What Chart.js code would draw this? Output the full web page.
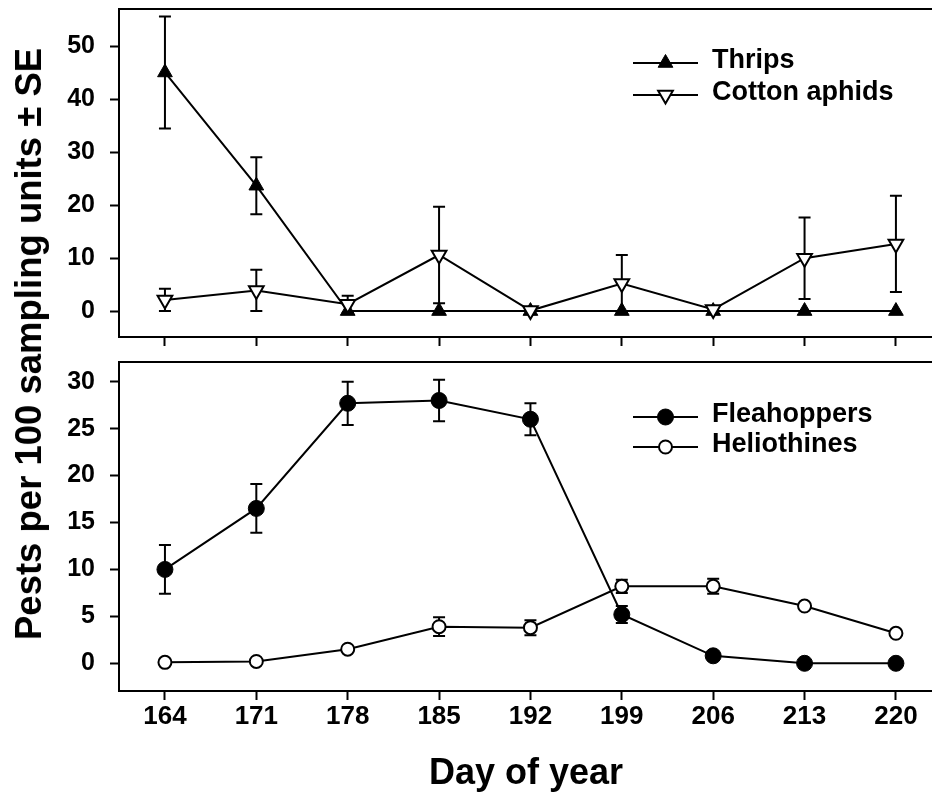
<!DOCTYPE html>
<html>
<head>
<meta charset="utf-8">
<title>Pest densities by day of year</title>
<script src="https://cdn.jsdelivr.net/npm/chart.js@4.4.1/dist/chart.umd.min.js"></script>
<style>
  html, body { margin: 0; padding: 0; background: #fff; width: 932px; height: 796px; overflow: hidden; }
  #wrap { position: relative; width: 932px; height: 796px; overflow: hidden; }
  #topPanel { position: absolute; left: 0; top: 0; }
  #bottomPanel { position: absolute; left: 0; top: 352px; }
  #ytitle {
    position: absolute; left: 29px; top: 344px;
    transform: translate(-50%, -50%) rotate(-90deg);
    font: bold 36.5px "Liberation Sans", Arial, sans-serif;
    line-height: 36px; white-space: nowrap; color: #000;
  }
</style>
</head>
<body>
<div id="wrap">
  <canvas id="topPanel" width="936" height="352"></canvas>
  <canvas id="bottomPanel" width="936" height="444"></canvas>
  <div id="ytitle">Pests per 100 sampling units ± SE</div>
</div>
<script>
// Sampling dates (day of year)
const days = [164, 171, 178, 185, 192, 199, 206, 213, 220];

// Upper panel: thrips and cotton aphids (mean and SE per 100 sampling units)
const thrips     = [45.1, 23.7, 0, 0, 0, 0, 0, 0, 0];
const thripsSE   = [10.6, 5.4, 0, 0, 0, 0, 0, 0, 0];
const aphids     = [2.1, 3.9, 1.3, 10.6, 0.1, 5.2, 0.3, 10.0, 12.7];
const aphidsSE   = [2.1, 3.9, 1.6, 9.1, 0, 5.4, 0, 7.7, 9.1];

// Lower panel: fleahoppers and heliothines
const fleahoppers   = [10.0, 16.5, 27.7, 28.0, 26.0, 5.2, 0.8, 0, 0];
const fleahoppersSE = [2.6, 2.6, 2.3, 2.2, 1.7, 0.9, 0, 0, 0];
const heliothines   = [0.1, 0.2, 1.5, 3.9, 3.8, 8.2, 8.2, 6.1, 3.2];
const heliothinesSE = [0, 0, 0, 1.0, 0.8, 0.7, 0.8, 0, 0];

// Tick labels
const dayTicks = [164, 171, 178, 185, 192, 199, 206, 213, 220];
const topTicks = [0, 10, 20, 30, 40, 50];
const bottomTicks = [0, 5, 10, 15, 20, 25, 30];

const FONT = '"Liberation Sans", Arial, sans-serif';
Chart.defaults.color = '#000';
Chart.defaults.font.family = FONT;

const pts = (vals) => days.map((d, i) => ({ x: d, y: vals[i] }));

// Draws a marker shape centred at (x, y)
function drawMarker(ctx, style, x, y) {
  ctx.save();
  ctx.lineWidth = style.borderWidth;
  ctx.strokeStyle = '#000';
  ctx.fillStyle = style.fill;
  ctx.beginPath();
  if (style.shape === 'circle') {
    ctx.arc(x, y, style.radius, 0, Math.PI * 2);
  } else {
    const dir = style.down ? 1 : -1;
    const r = style.radius;
    for (let k = 0; k < 3; k++) {
      const a = k * 2 * Math.PI / 3;
      const px = x + Math.sin(a) * r;
      const py = y + dir * Math.cos(a) * r;
      if (k === 0) ctx.moveTo(px, py); else ctx.lineTo(px, py);
    }
    ctx.closePath();
  }
  ctx.fill();
  if (style.borderWidth > 0) ctx.stroke();
  ctx.restore();
}

// Vertical SE bars with caps, drawn beneath the markers
const errorBars = {
  id: 'errorBars',
  beforeDatasetsDraw(chart) {
    const { ctx } = chart;
    const x = chart.scales.x, y = chart.scales.y;
    ctx.save();
    ctx.strokeStyle = '#000';
    ctx.lineWidth = 2;
    chart.data.datasets.forEach(ds => {
      if (!ds.se) return;
      ds.data.forEach((p, i) => {
        const e = ds.se[i];
        if (!e) return;
        const px = x.getPixelForValue(p.x);
        const t = y.getPixelForValue(p.y + e);
        const b = y.getPixelForValue(p.y - e);
        ctx.beginPath();
        ctx.moveTo(px, t); ctx.lineTo(px, b);
        ctx.moveTo(px - 6, t); ctx.lineTo(px + 6, t);
        ctx.moveTo(px - 6, b); ctx.lineTo(px + 6, b);
        ctx.stroke();
      });
    });
    ctx.restore();
  }
};

// Closed frame around the plotting area
const frame = {
  id: 'frame',
  afterDatasetsDraw(chart) {
    const { ctx, chartArea: a } = chart;
    ctx.save();
    ctx.strokeStyle = '#000';
    ctx.lineWidth = 2;
    ctx.strokeRect(a.left, a.top, a.right - a.left, a.bottom - a.top);
    ctx.restore();
  }
};

// Line-and-marker key drawn inside the panel
const panelKey = {
  id: 'panelKey',
  afterDraw(chart, args, opts) {
    const { ctx } = chart;
    opts.items.forEach(it => {
      ctx.save();
      ctx.strokeStyle = '#000';
      ctx.lineWidth = 2;
      ctx.beginPath();
      ctx.moveTo(opts.x0, it.y);
      ctx.lineTo(opts.x1, it.y);
      ctx.stroke();
      drawMarker(ctx, it.marker, (opts.x0 + opts.x1) / 2, it.y);
      ctx.fillStyle = '#000';
      ctx.font = 'bold 27px ' + FONT;
      ctx.textBaseline = 'middle';
      ctx.textAlign = 'left';
      ctx.fillText(it.label, opts.tx, it.y - 2);
      ctx.restore();
    });
  }
};

const X_MIN = 160.48, X_MAX = 222.84;

// Fixed scale sizes so both panels share the same plotting columns
const noPad = ax => { ax.paddingTop = 0; ax.paddingBottom = 0; ax.paddingLeft = 0; ax.paddingRight = 0; };

function xScale(showLabels, height) {
  return {
    type: 'linear',
    min: X_MIN, max: X_MAX,
    afterBuildTicks: ax => { ax.ticks = dayTicks.map(v => ({ value: v })); },
    afterFit: ax => { ax.height = height; noPad(ax); },
    grid: { display: true, drawOnChartArea: false, drawTicks: true, tickLength: 9, tickWidth: 2, tickColor: '#000' },
    border: { display: true, color: '#000', width: 2 },
    ticks: {
      display: showLabels, color: '#000', padding: 1, autoSkip: false, maxRotation: 0,
      font: { family: FONT, size: 26, weight: 'bold' },
      callback: v => String(v)
    },
    title: {
      display: showLabels, text: 'Day of year', color: '#000',
      font: { family: FONT, size: 36, weight: 'bold' }, padding: { top: 0, bottom: 0 }
    }
  };
}

function yScale(min, max, tickVals) {
  return {
    type: 'linear',
    min, max,
    afterBuildTicks: ax => { ax.ticks = tickVals.map(v => ({ value: v })); },
    afterFit: ax => { ax.width = 119; noPad(ax); },
    grid: { display: true, drawOnChartArea: false, drawTicks: true, tickLength: 9, tickWidth: 2, tickColor: '#000' },
    border: { display: true, color: '#000', width: 2 },
    ticks: {
      color: '#000', padding: 15,
      font: { family: FONT, size: 25, weight: 'bold' },
      callback: v => String(v)
    }
  };
}

const filledTri = { shape: 'triangle', down: false, radius: 8.5, fill: '#000', borderWidth: 1 };
const hollowTriDown = { shape: 'triangle', down: true, radius: 8.5, fill: '#fff', borderWidth: 2 };
const filledCircle = { shape: 'circle', radius: 8, fill: '#000', borderWidth: 1 };
const hollowCircle = { shape: 'circle', radius: 6.5, fill: '#fff', borderWidth: 2 };

function lineDs(label, vals, se, m, order) {
  return {
    label, data: pts(vals), se, order,
    borderColor: '#000', borderWidth: 2, tension: 0,
    pointStyle: m.shape === 'circle' ? 'circle' : 'triangle',
    pointRotation: m.down ? 180 : 0,
    pointRadius: m.radius,
    pointBorderWidth: m.borderWidth,
    pointBackgroundColor: m.fill,
    pointBorderColor: '#000',
    clip: false
  };
}

const common = (yMin, yMax, ticks, showX, xH, pad, keyItems) => ({
  responsive: false,
  animation: false,
  events: [],
  layout: { padding: pad, autoPadding: false },
  plugins: {
    legend: { display: false },
    tooltip: { enabled: false },
    panelKey: { x0: 633, x1: 698, tx: 712, items: keyItems }
  },
  scales: { x: xScale(showX, xH), y: yScale(yMin, yMax, ticks) }
});

new Chart(document.getElementById('topPanel'), {
  type: 'line',
  data: {
    datasets: [
      lineDs('Thrips', thrips, thripsSE, filledTri, 1),
      lineDs('Cotton aphids', aphids, aphidsSE, hollowTriDown, 0)
    ]
  },
  options: common(-4.9, 57.1, topTicks, false, 15, { top: 9, right: 3, left: 0, bottom: 0 }, [
    { label: 'Thrips', y: 63, marker: filledTri },
    { label: 'Cotton aphids', y: 95, marker: hollowTriDown }
  ]),
  plugins: [errorBars, frame, panelKey]
});

new Chart(document.getElementById('bottomPanel'), {
  type: 'line',
  data: {
    datasets: [
      lineDs('Fleahoppers', fleahoppers, fleahoppersSE, filledCircle, 1),
      lineDs('Heliothines', heliothines, heliothinesSE, hollowCircle, 0)
    ]
  },
  options: common(-2.95, 32.1, bottomTicks, true, 105, { top: 10, right: 3, left: 0, bottom: 0 }, [
    { label: 'Fleahoppers', y: 65, marker: filledCircle },
    { label: 'Heliothines', y: 95, marker: hollowCircle }
  ]),
  plugins: [errorBars, frame, panelKey]
});
</script>
</body>
</html>
